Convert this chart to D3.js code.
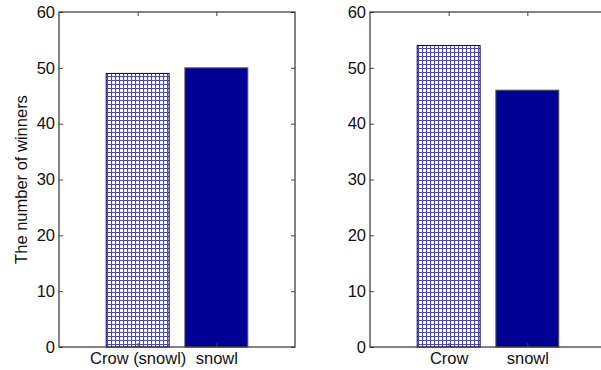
<!DOCTYPE html>
<html>
<head>
<meta charset="utf-8">
<script src="https://cdn.jsdelivr.net/npm/d3@7"></script>
<style>
body { margin: 0; background: #fff; }
text { font-family: "Liberation Sans", Arial, sans-serif; }
</style>
</head>
<body>
<div id="chart"></div>
<script>
// data
var leftLabels = ['Crow (snowl)', 'snowl'];
var leftValues = [49, 50];
var rightLabels = ['Crow', 'snowl'];
var rightValues = [54, 46];
var yTicks = [0, 10, 20, 30, 40, 50, 60];

var svgWidth = 601, svgHeight = 370;
var fs = 16.5;
var svg = d3.select('#chart').append('svg')
    .attr('width', svgWidth).attr('height', svgHeight);

// cross hatch for the first bar
var defs = svg.append('defs');
var pat = defs.append('pattern')
    .attr('id', 'hatch')
    .attr('patternUnits', 'userSpaceOnUse')
    .attr('width', 4).attr('height', 4);
pat.append('rect').attr('width', 4).attr('height', 4).attr('fill', '#fff');
pat.append('path')
    .attr('d', 'M0,0.5H4M0.5,0V4')
    .attr('stroke', '#2a2aa0')
    .attr('stroke-width', 1.2)
    .attr('opacity', 0.85);

var height = 347 - 12;

function drawPanel(left, width, labels, values, ylab) {
    var g = svg.append('g').attr('transform', `translate(${left},12)`);
    var x = d3.scaleLinear().domain([0, 3]).range([0, width]);
    var y = d3.scaleLinear().domain([0, 60]).range([height, 0]);

    g.selectAll('rect.bar')
        .data(values)
        .enter()
        .append('rect')
        .attr('class', 'bar')
        .attr('x', (d, i) => x(i + 1 - 0.4))
        .attr('width', x(0.8) - x(0))
        .attr('y', d => y(d))
        .attr('height', d => y(0) - y(d))
        .attr('fill', (d, i) => i === 0 ? 'url(#hatch)' : '#000094')
        .attr('stroke', (d, i) => i === 0 ? '#000060' : '#555')
        .attr('stroke-width', 1);

    // ticks inward on all four sides
    var leftAxis = d3.axisLeft(y).tickValues(yTicks).tickSize(-4).tickPadding(4);
    var ya = g.append('g').call(leftAxis);
    ya.select('.domain').remove();
    ya.selectAll('line').attr('stroke', '#444');
    ya.selectAll('text').attr('font-size', fs).attr('fill', '#111');

    var rightAxis = d3.axisRight(y).tickValues(yTicks).tickSize(-4).tickFormat('');
    var yr = g.append('g').attr('transform', `translate(${width},0)`).call(rightAxis);
    yr.select('.domain').remove();
    yr.selectAll('line').attr('stroke', '#444');

    var bottomAxis = d3.axisBottom(x).tickValues([1, 2]).tickSize(-4).tickPadding(5)
        .tickFormat((d, i) => labels[i]);
    var xa = g.append('g').attr('transform', `translate(0,${height})`).call(bottomAxis);
    xa.select('.domain').remove();
    xa.selectAll('line').attr('stroke', '#444');
    xa.selectAll('text').attr('font-size', fs).attr('fill', '#111');

    var topAxis = d3.axisTop(x).tickValues([1, 2]).tickSize(-4).tickFormat('');
    var xt = g.append('g').call(topAxis);
    xt.select('.domain').remove();
    xt.selectAll('line').attr('stroke', '#444');

    g.append('rect')
        .attr('width', width).attr('height', height)
        .attr('fill', 'none').attr('stroke', '#333').attr('stroke-width', 1.2);

    if (ylab) {
        g.append('text')
            .attr('transform', 'rotate(-90)')
            .attr('x', -height / 2)
            .attr('y', 27 - left)
            .attr('text-anchor', 'middle')
            .attr('font-size', fs)
            .attr('fill', '#111')
            .text(ylab);
    }
}

drawPanel(59, 236, leftLabels, leftValues, 'The number of winners');
drawPanel(370, 236, rightLabels, rightValues, null);
</script>
</body>
</html>
